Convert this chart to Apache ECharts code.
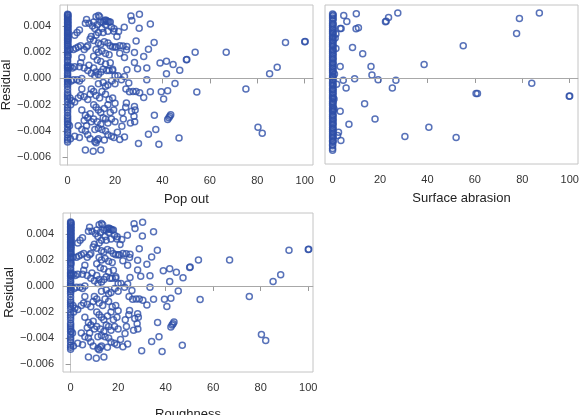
<!DOCTYPE html>
<html>
<head>
<meta charset="utf-8">
<script src="https://cdn.jsdelivr.net/npm/echarts@6/dist/echarts.min.js"></script>
<style>
  html, body { margin: 0; padding: 0; background: #fff; }
  #chart { width: 579px; height: 415px; }
</style>
</head>
<body>
<div id="chart"></div>
<script>
// residual vs. defect rating, points as [x, residual]
const popOut = [
  [0,0.0049],[0,0.0048],[0,0.0047],[0,0.00455],[0,0.00445],[0,0.0043],[0,0.0042],[0,0.00405],[0,0.00395],[0,0.0038],
  [0,0.0037],[0,0.00355],[0,0.0034],[0,0.0033],[0,0.00315],[0,0.003],[0,0.0029],[0,0.00275],[0,0.0026],[0,0.00245],
  [0,0.0023],[0,0.0021],[0,0.00195],[0,0.0018],[0,0.0016],[0,0.0014],[0,0.00125],[0,0.00105],[0,0.00095],[0,0.00085],
  [0,0.00075],[0,0.0006],[0,0.0004],[0,0.00025],[0,0.0001],[0,0],[0,-0.0001],[0,-0.00025],[0,-0.00045],[0,-0.0006],
  [0,-0.00085],[0,-0.0011],[0,-0.00125],[0,-0.0014],[0,-0.00155],[0,-0.00175],[0,-0.00205],[0,-0.00225],[0,-0.0024],[0,-0.0026],
  [0,-0.00285],[0,-0.003],[0,-0.00315],[0,-0.0033],[0,-0.0035],[0,-0.00375],[0,-0.00395],[0,-0.0041],[0,-0.0043],[0,-0.00455],
  [0,-0.0047],[0,-0.00485],
  [0.2,0.00485],[0.2,0.00463],[0.2,0.00437],[0.2,0.00412],[0.2,0.00388],[0.2,0.00362],[0.2,0.00347],[0.2,0.00322],
  [0.2,0.00307],[0.2,0.00283],[0.2,0.00252],[0.2,0.00218],[0.2,0.00172],[0.2,0.0009],[0.2,0.0008],[0.2,-0.0003],[0.2,-0.0035],
  [1,0.0022],[1.2,0.0009],[1.5,-0.0002],[1,-0.0015],[1.3,-0.002],[0.8,-0.0036],[1.2,-0.0046],[1.8,-0.0017],[2,0.0008],
  [3,0.0033],[4,0.0035],[5,0.0037],[2.5,0.0022],[3.5,0.0023],[4.5,0.0024],[5.5,0.0025],[6,0.0016],[5.5,0.0012],
  [7.5,0.0042],[8,0.0045],[9,0.0042],[8,0.0024],[8.5,0.0025],[9.5,0.003],[10,0.0032],[7,0.0022],[9,0.001],[7,0.0008],
  [8.5,0.0006],[10,0.0004],[3,0.0009],[5,0.0009],[2.5,-0.0001],[4,-0.0001],[5,-0.0002],[6,0],[6,-0.0008],[5.5,-0.0013],
  [4.5,-0.0015],[3,-0.0018],[7,-0.0014],[8.5,-0.0016],[9.5,-0.0012],[10,-0.0008],[6,-0.0024],[7.5,-0.0028],[8.5,-0.003],
  [9.5,-0.0027],[7,-0.0032],[8,-0.0036],[10,-0.0033],[4.5,-0.0036],[6,-0.0039],[7.5,-0.004],[8.5,-0.0043],[3,-0.0044],
  [5,-0.0045],[9.5,-0.0046],[7.5,-0.00545],[10.8,-0.00555],
  [11,0.0043],[12,0.0047],[13,0.0048],[13.5,0.0047],[10.5,0.004],[11.5,0.0038],[12.5,0.0041],[14,0.0043],[15,0.0043],
  [15.5,0.0044],[16,0.00445],[16.5,0.0044],[17,0.00435],[17.5,0.0043],[18,0.0043],[16,0.0041],[14.5,0.0038],[13,0.0035],
  [12,0.0033],[15,0.0035],[17,0.0036],[18.5,0.0039],[19.5,0.0036],[11,0.0029],[13,0.0027],[14,0.0026],[15.5,0.0028],
  [17,0.0027],[18,0.0025],[19,0.0024],[20,0.0024],[12,0.0022],[13,0.002],[14.5,0.0021],[16,0.0019],[17.5,0.0018],
  [11,0.0017],[12.5,0.0014],[14,0.0013],[16,0.0011],[18,0.0012],[19,0.0007],[11,0.0008],[12,0.0005],[13,0.0003],
  [11.5,0.0002],[14,0.0005],[15,0.0007],[16.5,0.0006],[17.5,0.0006],[19,0.0006],[20,0.0002],[13,-0.0004],[15,-0.0003],
  [16,-0.0006],[17,-0.0005],[18.5,-0.0002],[20,-0.0004],[11,-0.001],[12,-0.0013],[13.5,-0.0015],[14.5,-0.001],[16,-0.0012],
  [17.5,-0.0016],[19,-0.0015],[20,-0.0019],[11,-0.002],[12,-0.0022],[13,-0.0024],[14,-0.0026],[15.5,-0.0023],[17,-0.002],
  [18,-0.0026],[19.5,-0.0024],[11,-0.0031],[12.5,-0.0033],[14,-0.0035],[15,-0.003],[16,-0.0031],[17,-0.0034],[18.5,-0.0031],
  [20,-0.0033],[11.5,-0.0039],[13,-0.0038],[14.5,-0.0039],[16,-0.004],[17,-0.0043],[18.5,-0.0044],[19.5,-0.0045],
  [11.5,-0.0048],[12,-0.0049],[12.5,-0.0047],[13,-0.0046],[14,-0.00545],[15.5,-0.0047],
  [21.5,0.00357],[19.6,0.00378],[20.8,0.00319],[23.9,0.0039],[25,0.00243],[23.4,0.00248],[22,0.0025],[20.5,0.0024],
  [24.8,0.00218],[22,0.00193],[24,0.0016],[25,0.00066],[24,0.00015],[21.2,0.0002],[22.7,-0.0001],[24.6,-0.00081],
  [24.8,-0.00188],[24.5,-0.0022],[23,-0.0026],[23.5,-0.0031],[22.9,-0.00365],[24,-0.00446],[22,-0.00466],[21,-0.0041],
  [26.7,0.00477],[27.1,0.00441],[28.9,0.00286],[28.2,0.00198],[28.2,0.00122],[29.5,0.00074],[25.8,-0.00035],[26.1,-0.00101],
  [27.6,-0.001],[28.9,-0.001],[28.2,-0.00213],[28.5,-0.0024],[27,-0.0025],[28,-0.00289],[28.3,-0.0033],[26.5,-0.0034],
  [29.9,-0.00497],[30.3,0.00489],[30.2,0.00383],[30.4,-0.00109],
  [32.1,0.00167],[34.1,0.00223],[36.5,0.00274],[34.9,0.00416],[33.4,0.00079],[33.4,-0.0001],[32.1,-0.00145],[34.9,-0.00101],
  [36.6,-0.00281],[37.2,-0.0039],[34.1,-0.00426],[38.5,-0.00502],[39,0.00117],[41.7,0.00132],[41.7,0.00035],[44.5,0.00106],
  [39.5,-0.00101],[42.2,-0.00094],[40.5,-0.00157],[45.3,-0.00038],[42.2,-0.00314],[42.7,-0.003],[43.1,-0.00289],[43.5,-0.00276],
  [47.3,0.00063],[47,-0.00454],[50.1,0.00142],[50.3,0.00145],[53.8,0.002],[54.5,-0.00104],[66.9,0.002],[75.2,-0.00081],
  [80.3,-0.00373],[82.1,-0.00418],[85.2,0.00035],[88.4,0.00086],[91.9,0.00274],[100,0.0028],[100.2,0.00281]
];
const surfaceAbrasion = [
  [0,0.0049],[0,0.00475],[0,0.0046],[0,0.0044],[0,0.0042],[0,0.00405],[0,0.0039],[0,0.0037],[0,0.00355],[0,0.0034],
  [0,0.0032],[0,0.00305],[0,0.0029],[0,0.0027],[0,0.00255],[0,0.0024],[0,0.0022],[0,0.00205],[0,0.0019],[0,0.0017],
  [0,0.00155],[0,0.0014],[0,0.0012],[0,0.00105],[0,0.0009],[0,0.0007],[0,0.00055],[0,0.0004],[0,0.0002],[0,0.00005],
  [0,-0.0001],[0,-0.0003],[0,-0.00045],[0,-0.0006],[0,-0.0008],[0,-0.00095],[0,-0.0011],[0,-0.0013],[0,-0.00145],[0,-0.0016],
  [0,-0.0018],[0,-0.00195],[0,-0.0021],[0,-0.0023],[0,-0.00245],[0,-0.0026],[0,-0.0028],[0,-0.00295],[0,-0.0031],[0,-0.0033],
  [0,-0.00345],[0,-0.0036],[0,-0.0038],[0,-0.00395],[0,-0.0041],[0,-0.0043],[0,-0.00445],[0,-0.0046],[0,-0.0048],[0,-0.0049],
  [0,-0.0051],[0,-0.0052],[0,-0.00542],[0,-0.00555],
  [0.3,0.00483],[0.3,0.00452],[0.3,0.00413],[0.3,0.00378],[0.3,0.00347],[0.3,0.00312],[0.3,0.00281],[0.3,0.00248],
  [0.3,0.00212],[0.3,0.00181],[0.3,0.00147],[0.3,0.00113],[0.3,0.00081],[0.3,0.00047],[0.3,0.00012],[0.3,-0.0002],
  [0.3,-0.00053],[0.3,-0.00088],[0.3,-0.0012],[0.3,-0.00153],[0.3,-0.00187],[0.3,-0.0022],[0.3,-0.00253],[0.3,-0.00287],
  [0.3,-0.0032],[0.3,-0.00353],[0.3,-0.00387],[0.3,-0.0042],[0.3,-0.00453],[0.3,-0.00485],
  [1.4,0.00337],[1.1,0.00307],[1.4,0.00226],[1.7,-0.00048],[0.6,-0.00162],[0.6,-0.00238],[0.8,0.0003],
  [4.7,0.00479],[10,0.00492],[6,0.00433],[3.2,0.0038],[3.6,0.0038],[22.6,0.00436],[22.3,0.00431],[23.6,0.00464],
  [27.5,0.00499],[9.9,0.00378],[10.9,0.00385],[8.4,0.00233],[12.7,0.00185],[3.2,0.00089],[16.2,0.00089],[16.6,0.00023],
  [9.3,-0.00005],[4.5,-0.00018],[19.2,-0.00013],[26.7,-0.00018],[5.7,-0.00076],[25.2,-0.00076],[38.6,0.00104],
  [55.1,0.00248],[77.6,0.00342],[78.8,0.00456],[87.2,0.00499],[84,-0.00041],[60.5,-0.00119],[61.1,-0.00119],
  [100,-0.00139],[99.8,-0.0014],[13.5,-0.00198],[3.2,-0.00256],[17.9,-0.00314],[6.9,-0.00355],[40.6,-0.00378],
  [2.5,-0.00416],[2.1,-0.00441],[3.5,-0.00479],[30.5,-0.00449],[52.1,-0.00456]
];
// the Roughness panel shows the very same points as Pop out
const roughness = popOut.slice();

const xTicks = [0, 20, 40, 60, 80, 100];
const yTicks = [-0.006, -0.004, -0.002, 0, 0.002, 0.004];

const blue = "#2e4fa8";
const frame = "#c4c4c4";

function xAxis(idx, name, gap, pad) {
  return {
    type: "value",
    gridIndex: idx,
    min: -3.2,
    max: idx == 2 ? 102 : 103.5,
    name: name,
    nameLocation: "middle",
    nameGap: gap,
    nameTextStyle: { fontSize: 13, color: "#222", padding: pad || 0 },
    axisLine: { show: true, lineStyle: { color: frame } },
    axisTick: { show: true, length: 5, customValues: xTicks, lineStyle: { color: "#999" } },
    axisLabel: { fontSize: 11, color: "#333", margin: 10, customValues: xTicks },
    splitLine: { show: false },
  };
}

function yAxis(idx, name) {
  return {
    type: "value",
    gridIndex: idx,
    min: -0.0066,
    max: 0.0056,
    name: name,
    nameLocation: "middle",
    nameGap: 44,
    nameTextStyle: { fontSize: 13, color: "#222" },
    axisLine: { show: idx != 1, lineStyle: { color: frame } },
    axisTick: { show: idx != 1, length: 5, customValues: yTicks, lineStyle: { color: "#999" } },
    axisLabel: {
      show: idx != 1,
      fontSize: 11,
      color: "#333",
      margin: 9,
      customValues: yTicks,
      formatter: (v) => (v < -1e-9 ? "\u2212" : "") + Math.abs(v).toFixed(3),
    },
    splitLine: { show: false },
  };
}

function scatter(idx, data) {
  return {
    type: "scatter",
    xAxisIndex: idx,
    yAxisIndex: idx,
    data: data,
    symbol: "circle",
    symbolSize: 6,
    itemStyle: { color: "rgba(0,0,0,0)", borderColor: blue, borderWidth: 1.5 },
    markLine: {
      silent: true,
      symbol: "none",
      label: { show: false },
      lineStyle: { color: "#a8a8a8", width: 1, type: "solid" },
      data: [{ yAxis: 0 }],
    },
    z: 3,
  };
}

// grids keep their exact boxes, the bottom axis title may run off the page like in the picture
const gridBase = { show: true, borderColor: frame, borderWidth: 1, containLabel: false, outerBoundsMode: "none" };

const chart = echarts.init(document.getElementById("chart"), null, { renderer: "canvas" });
chart.setOption({
  animation: false,
  backgroundColor: "#fff",
  textStyle: { fontFamily: "Liberation Sans, Arial, sans-serif" },
  grid: [
    Object.assign({ left: 60, top: 5, width: 253, height: 160 }, gridBase),
    Object.assign({ left: 325, top: 5, width: 253, height: 159 }, gridBase),
    Object.assign({ left: 63, top: 213, width: 250, height: 159 }, gridBase),
  ],
  xAxis: [
    xAxis(0, "Pop out", 28),
    xAxis(1, "Surface abrasion", 28, [0, 0, 0, 20]),
    xAxis(2, "Roughness", 36),
  ],
  yAxis: [yAxis(0, "Residual"), yAxis(1, ""), yAxis(2, "Residual")],
  series: [scatter(0, popOut), scatter(1, surfaceAbrasion), scatter(2, roughness)],
});
</script>
</body>
</html>
